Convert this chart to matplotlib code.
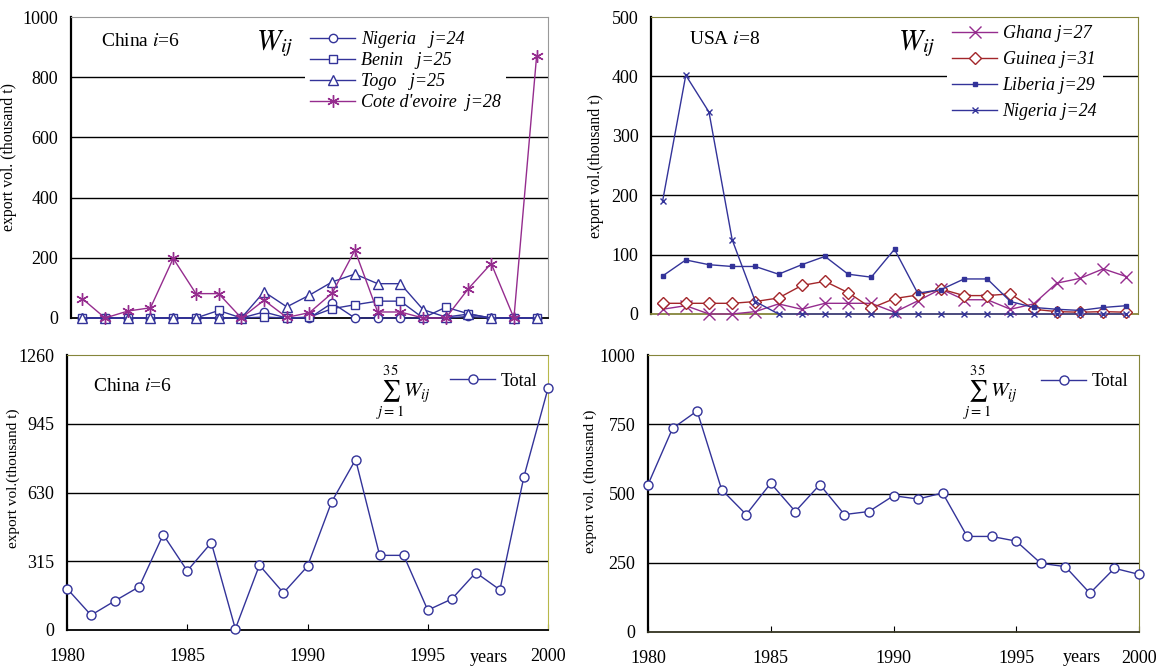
import matplotlib
matplotlib.use("Agg")
import matplotlib.pyplot as plt

plt.rcParams['font.family'] = ['Liberation Serif', 'DejaVu Serif']
plt.rcParams['mathtext.fontset'] = 'stix'

years = list(range(1980, 2001))

# China i=6, exports to single countries (thousand t)
china_nigeria = [0, 0, 0, 0, 0, 0, 0, 0, 20, 0, 0, 50, 0, 0, 0, 0, 0, 5, 0, 0, 0]
china_benin = [0, 0, 0, 0, 0, 0, 25, 0, 3, 0, 3, 31, 44, 56, 56, 0, 36, 14, 0, 0, 0]
china_togo = [0, 0, 0, 0, 0, 0, 0, 0, 87, 37, 76, 120, 146, 114, 114, 28, 3, 13, 0, 0, 0]
china_cote = [64, 0, 23, 34, 198, 81, 81, 0, 59, 2, 18, 83, 225, 20, 20, 0, 0, 98, 181, 0, 872]

# USA i=8
usa_ghana = [8, 14, 0, 0, 4, 17, 8, 18, 18, 18, 3, 22, 42, 24, 24, 8, 17, 52, 60, 76, 63]
usa_guinea = [18, 18, 18, 18, 21, 27, 48, 55, 36, 10, 26, 32, 42, 31, 31, 34, 8, 4, 3, 4, 3]
usa_liberia = [64, 91, 83, 80, 80, 67, 83, 97, 67, 62, 109, 35, 41, 59, 59, 21, 11, 8, 6, 11, 14]
usa_nigeria = [190, 402, 340, 125, 21, 0, 0, 0, 0, 0, 0, 0, 0, 0, 0, 0, 0, 0, 0, 0, 0]

# totals over all j
china_total = [190, 68, 134, 198, 437, 271, 400, 5, 297, 170, 292, 586, 781, 342, 342,
               91, 142, 263, 184, 703, 1107]
usa_total = [532, 735, 798, 514, 424, 537, 435, 532, 424, 435, 492, 480, 502, 345, 345,
             328, 248, 236, 140, 230, 208]

BLUE = '#333399'
PURPLE = '#952C8E'
DARKRED = '#A3262A'
OLIVE = '#85853a'
W, H = 1159, 666

fig = plt.figure(figsize=(W / 100, H / 100), dpi=100)


def rect(x0, y0, x1, y1):
    return [x0 / W, 1 - y1 / H, (x1 - x0) / W, (y1 - y0) / H]


def ftext(x, y, s, **kw):
    fig.text(x / W, 1 - y / H, s, ha=kw.pop('ha', 'left'), va=kw.pop('va', 'center'), **kw)


def style(ax, ymax, step, spine_cols):
    ax.set_ylim(0, ymax)
    ax.set_yticks(range(0, ymax + 1, step))
    for v in range(step, ymax, step):
        ax.axhline(v, color='black', lw=1.0, zorder=1)
    ax.tick_params(axis='y', length=0, pad=9, labelsize=13)
    for side, c in spine_cols.items():
        ax.spines[side].set_color(c)
    ax.spines['left'].set_linewidth(1.6)
    ax.spines['bottom'].set_linewidth(1.3)


# top left
ax1 = fig.add_axes(rect(71, 17, 548, 318))
mk = dict(mfc='white', lw=1.0, mew=1.0, clip_on=False, zorder=3)
ax1.plot(years, china_nigeria, color=BLUE, marker='o', ms=6, label='Nigeria   j=24', **mk)
ax1.plot(years, china_benin, color=BLUE, marker='s', ms=6, label='Benin   j=25', **mk)
ax1.plot(years, china_togo, color=BLUE, marker='^', ms=7, label='Togo   j=25', **mk)
ax1.plot(years, china_cote, color=PURPLE, marker=(6, 2, 0), ms=9, label="Cote d'evoire  j=28",
         **mk)
ax1.set_xlim(1979.5, 2000.5)
ax1.set_xticks([])
style(ax1, 1000, 200, {'top': '#999999', 'right': '#999999', 'left': 'black', 'bottom': 'black'})
ax1.set_ylabel('export vol. (thousand t)', fontsize=11.3)
ax1.yaxis.set_label_coords(-0.113, 0.535)
ax1.legend(loc='upper left', bbox_to_anchor=(0.49, 0.97), borderaxespad=0, frameon=True,
           facecolor='white', edgecolor='none', framealpha=1, fancybox=False,
           prop={'style': 'italic', 'size': 13}, handlelength=2.5, handletextpad=0.3,
           labelspacing=0.22, borderpad=0.3)
ftext(101, 42, 'China $i$=6', fontsize=14)
ftext(256, 44, '$W_{ij}$', fontsize=21)

# top right
ax2 = fig.add_axes(rect(651, 17, 1138, 314))
ax2.plot(years, usa_ghana, color=PURPLE, marker='x', ms=8, label='Ghana j=27', **mk)
ax2.plot(years, usa_guinea, color=DARKRED, marker='D', ms=6, label='Guinea j=31', **mk)
ax2.plot(years, usa_liberia, color=BLUE, marker='s', ms=3, label='Liberia j=29',
         lw=1.0, mfc=BLUE, clip_on=False, zorder=3)
ax2.plot(years, usa_nigeria, color=BLUE, marker='x', ms=5, label='Nigeria j=24', **mk)
ax2.set_xlim(1979.5, 2000.5)
ax2.set_xticks([])
style(ax2, 500, 100, {'top': OLIVE, 'right': OLIVE, 'left': 'black', 'bottom': OLIVE})
ax2.set_ylabel('export vol.(thousand t)', fontsize=11.3)
ax2.yaxis.set_label_coords(-0.097, 0.50)
ax2.legend(loc='upper left', bbox_to_anchor=(0.607, 0.99), borderaxespad=0, frameon=True,
           facecolor='white', edgecolor='none', framealpha=1, fancybox=False,
           prop={'style': 'italic', 'size': 13}, handlelength=2.5, handletextpad=0.3,
           labelspacing=0.5, borderpad=0.3)
ftext(689, 39, 'USA $i$=8', fontsize=14)
ftext(898, 44, '$W_{ij}$', fontsize=21)

# bottom left
ax3 = fig.add_axes(rect(67, 355, 548, 630))
ax3.plot(years, china_total, color=BLUE, marker='o', ms=6.5, label='Total', **mk)
ax3.set_xlim(1980, 2000)
style(ax3, 1260, 315, {'top': OLIVE, 'right': '#b8b84a', 'left': 'black', 'bottom': 'black'})
ax3.set_ylabel('export vol.(thousand t)', fontsize=11)
ax3.yaxis.set_label_coords(-0.098, 0.553)
ax3.legend(loc='upper left', bbox_to_anchor=(0.785, 0.955), borderaxespad=0, frameon=False,
           prop={'size': 13}, handlelength=2.5, handletextpad=0.3, borderpad=0.3)
ftext(93, 387, 'China $i$=6', fontsize=14)
ftext(376, 393, r'$\sum_{j=1}^{35}W_{ij}$', fontsize=15)

# bottom right
ax4 = fig.add_axes(rect(648, 355, 1139, 632))
ax4.plot(years, usa_total, color=BLUE, marker='o', ms=6.5, label='Total', **mk)
ax4.set_xlim(1980, 2000)
style(ax4, 1000, 250, {'top': OLIVE, 'right': OLIVE, 'left': 'black', 'bottom': '#333320'})
ax4.set_ylabel('export vol. (thousand t)', fontsize=11)
ax4.yaxis.set_label_coords(-0.104, 0.545)
ax4.legend(loc='upper left', bbox_to_anchor=(0.79, 0.955), borderaxespad=0, frameon=False,
           prop={'size': 13}, handlelength=2.5, handletextpad=0.3, borderpad=0.3)
ftext(963, 393, r'$\sum_{j=1}^{35}W_{ij}$', fontsize=15)

for ax in (ax3, ax4):
    ax.set_xticks(range(1980, 2001, 5))
    ax.tick_params(axis='x', direction='in', length=4, pad=13, labelsize=13)
ftext(489, 657, 'years', fontsize=13, ha='center')
ftext(1082, 657, 'years', fontsize=13, ha='center')

fig.savefig('out.png', dpi=100)
